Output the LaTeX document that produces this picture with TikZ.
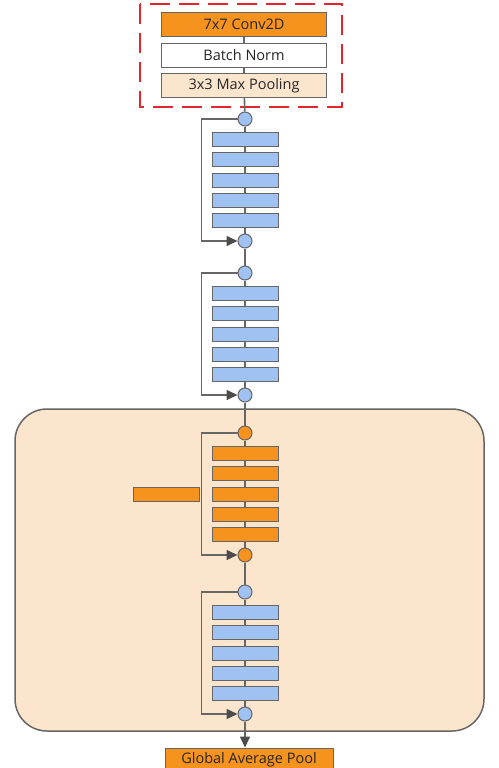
\documentclass[tikz,border=0pt]{standalone}
\usepackage{fontspec}
\setmainfont{Open Sans}
\usetikzlibrary{arrows.meta}
\definecolor{lblue}{HTML}{9FC2F2}
\definecolor{lorange}{HTML}{F6921E}
\definecolor{peach}{HTML}{FCE5CD}
\definecolor{lgray}{HTML}{666666}
\definecolor{dred}{HTML}{E3262B}
\tikzset{
  stembox/.style={draw=lgray, line width=1pt, minimum width=165pt, minimum height=24pt,
    inner sep=0pt, text=black!85, font=\fontsize{14.5}{16}\selectfont},
  layer/.style={draw=lgray, line width=1pt, minimum width=66pt, minimum height=14pt, inner sep=0pt},
  addnode/.style={circle, draw=lgray, line width=1pt, minimum size=14pt, inner sep=0pt},
  link/.style={draw=lgray, line width=1.6pt},
  tip/.style={-{Triangle[length=11pt,width=10pt,color=black!70]}},
}
\begin{document}
\begin{tikzpicture}[x=1pt,y=-1pt]
  \useasboundingbox (0,0) rectangle (498,768);
  % highlighted stage
  \draw [draw=lgray, line width=1.5pt, fill=peach, rounded corners=32pt] (15,409) rectangle (484,731);

  % stem
  \node [stembox, fill=lorange] (conv) at (244,24.5) {7x7 Conv2D};
  \node [stembox, fill=white] (bn) at (244,55.5) {Batch Norm};
  \node [stembox, fill=peach] (maxpool) at (244,85.5) {3x3 Max Pooling};
  \draw [link] (conv) -- (bn);
  \draw [link] (bn) -- (maxpool);
  \draw [dred, line width=2.5pt, dash pattern=on 20pt off 9pt] (140,4) rectangle (342,107);

  % residual blocks
  \foreach \b/\top/\col in {1/119/lblue, 2/273/lblue, 3/433/lorange, 4/592/lblue} {
    \node [addnode, fill=\col] (t\b) at (245,\top) {};
    \node [addnode, fill=\col] (b\b) at (245,\top+122) {};
    \foreach \i in {1,...,5}
      \node [layer, fill=\col] (l\b-\i) at (245,{\top+20.5+20.3*(\i-1)}) {};
    \draw [link] (t\b) -- (l\b-1);
    \foreach \i/\j in {1/2,2/3,3/4,4/5}
      \draw [link] (l\b-\i) -- (l\b-\j);
    \draw [link] (l\b-5) -- (b\b);
    \draw [link, tip] (t\b.west) -- ++(-36,0) |- (b\b.west);
  }
  \node [layer, fill=lorange] (side) at (166,494) {};

  % head
  \node [stembox, fill=lorange, minimum width=168pt] (gap) at (249,760) {Global Average Pool};

  \draw [link] (maxpool) -- (t1);
  \draw [link] (b1) -- (t2);
  \draw [link] (b2) -- (t3);
  \draw [link] (b3) -- (t4);
  \draw [link, tip] (b4) -- (b4 |- gap.north);
\end{tikzpicture}
\end{document}
